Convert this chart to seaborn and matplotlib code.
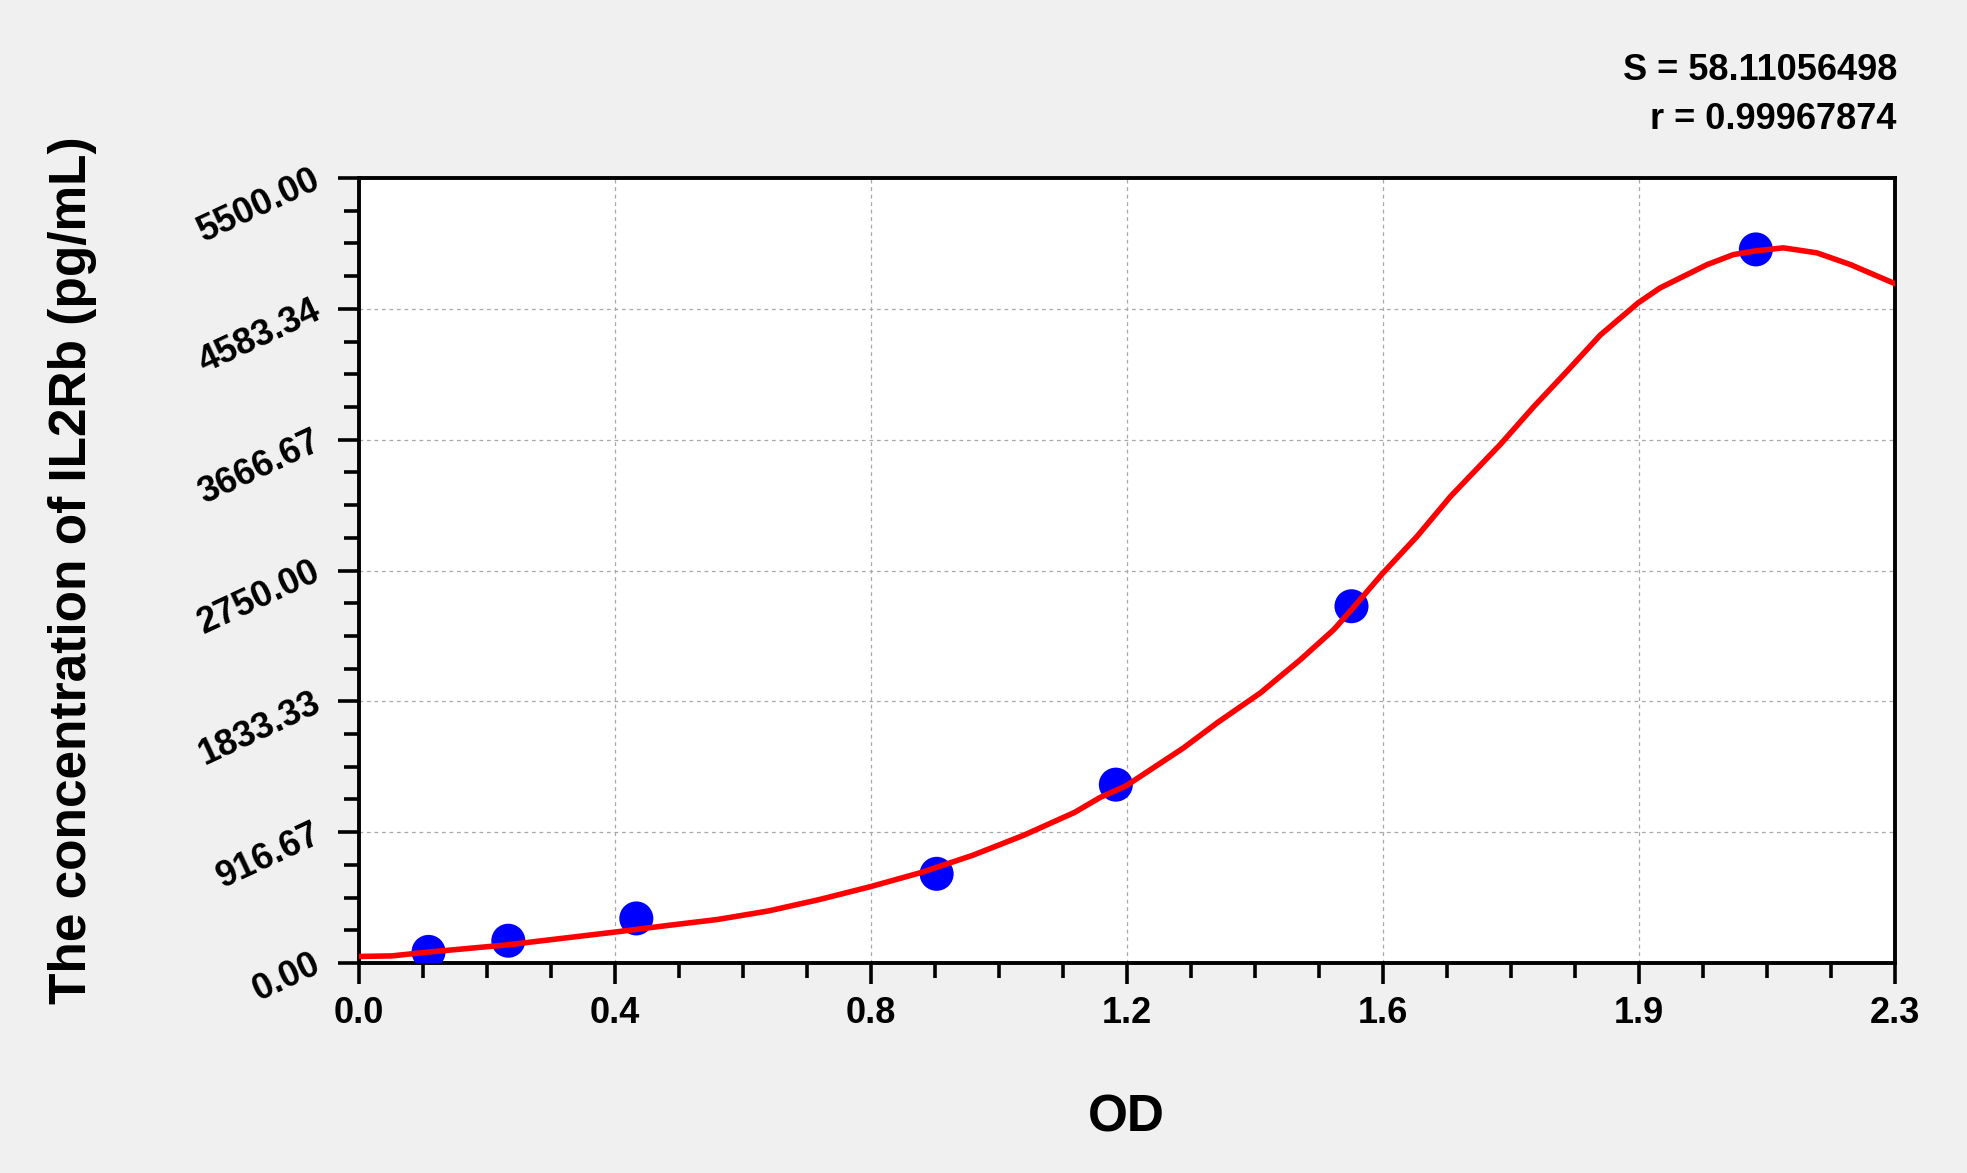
import numpy as np
import pandas as pd
import seaborn as sns
import matplotlib.pyplot as plt
from matplotlib.ticker import AutoMinorLocator

# standard points (OD vs concentration)
od_points = [0.106, 0.2275, 0.4225, 0.880, 1.153, 1.512, 2.128]
conc_points = [78.13, 156.25, 312.5, 625.0, 1250.0, 2500.0, 5000.0]

# fitted curve
curve_od = [0.0, 0.05, 0.106, 0.173, 0.2275, 0.313, 0.39, 0.468, 0.546, 0.624,
            0.7015, 0.779, 0.857, 0.935, 1.0125, 1.09, 1.129, 1.168, 1.256, 1.307,
            1.373, 1.434, 1.485, 1.512, 1.56, 1.612, 1.663, 1.739, 1.79, 1.838,
            1.891, 1.9485, 1.982, 2.018, 2.054, 2.094, 2.128, 2.17, 2.221, 2.272,
            2.343]
curve_conc = [46, 50, 77, 105, 128, 175, 217, 262, 305, 365,
              445, 535, 635, 755, 895, 1055, 1160, 1240, 1507, 1682,
              1892, 2125, 2336, 2476, 2733, 2990, 3270, 3635, 3900, 4135,
              4400, 4625, 4730, 4812, 4894, 4964, 4990, 5011, 4976, 4894,
              4754]

x_max = 2.34
y_max = 5500
x_tick_labels = ["0.0", "0.4", "0.8", "1.2", "1.6", "1.9", "2.3"]
y_tick_labels = ["0.00", "916.67", "1833.33", "2750.00", "3666.67", "4583.34", "5500.00"]

stats_lines = ["S = 58.11056498", "r = 0.99967874"]

sns.set_style("white")
plt.rcParams["font.family"] = ["Liberation Sans", "DejaVu Sans"]
plt.rcParams["font.weight"] = "bold"
for key in ["text.color", "axes.labelcolor", "xtick.color", "ytick.color"]:
    plt.rcParams[key] = "black"

points = pd.DataFrame({"OD": od_points, "conc": conc_points})
curve = pd.DataFrame({"OD": curve_od, "conc": curve_conc})

fig = plt.figure(figsize=(19.67, 11.73), dpi=100, facecolor="#f0f0f0")
ax = fig.add_axes([0.1825, 0.179, 0.7809, 0.6692])
ax.set_facecolor("white")

sns.scatterplot(data=points, x="OD", y="conc", s=600, color="#0000ff",
                edgecolor="none", zorder=3, ax=ax)
sns.lineplot(data=curve, x="OD", y="conc", sort=False, color="#ff0000",
             linewidth=4.0, zorder=4, ax=ax)

ax.set_xlim(0, x_max)
ax.set_ylim(0, y_max)
ax.set_xticks(np.linspace(0, x_max, 7))
ax.set_xticklabels(x_tick_labels)
ax.set_yticks(np.linspace(0, y_max, 7))
ax.set_yticklabels(y_tick_labels)
ax.xaxis.set_minor_locator(AutoMinorLocator(4))
ax.yaxis.set_minor_locator(AutoMinorLocator(4))

ax.tick_params(which="both", bottom=True, left=True, top=False, right=False)
ax.tick_params(which="major", direction="out", length=15, width=2.6,
               labelsize=26, color="black")
ax.tick_params(which="minor", direction="out", length=10.5, width=2.6, color="black")
ax.tick_params(axis="x", which="major", pad=9)
ax.tick_params(axis="y", which="major", pad=14)
plt.setp(ax.get_yticklabels(), rotation=25, ha="right", va="center",
         rotation_mode="anchor")

for sp in ax.spines.values():
    sp.set_visible(True)
    sp.set_color("black")
    sp.set_linewidth(2.8)

ax.grid(True, which="major", linestyle=(0, (3, 3)), color="#a8a8a8", linewidth=0.9)
ax.set_axisbelow(True)

ax.set_xlabel("")
ax.set_ylabel("")
fig.text(0.5727, 0.0465, "OD", ha="center", va="center", fontsize=37, fontweight="bold")
fig.text(0.0371, 0.5136, "The concentration of IL2Rb (pg/mL)", rotation=90,
         ha="center", va="center", fontsize=37, fontweight="bold")

fig.text(0.9644, 0.9318, stats_lines[0], ha="right", va="baseline", fontsize=26,
         fontweight="bold")
fig.text(0.9644, 0.890, stats_lines[1], ha="right", va="baseline", fontsize=26,
         fontweight="bold")

fig.savefig("out.png", dpi=100, facecolor=fig.get_facecolor())
